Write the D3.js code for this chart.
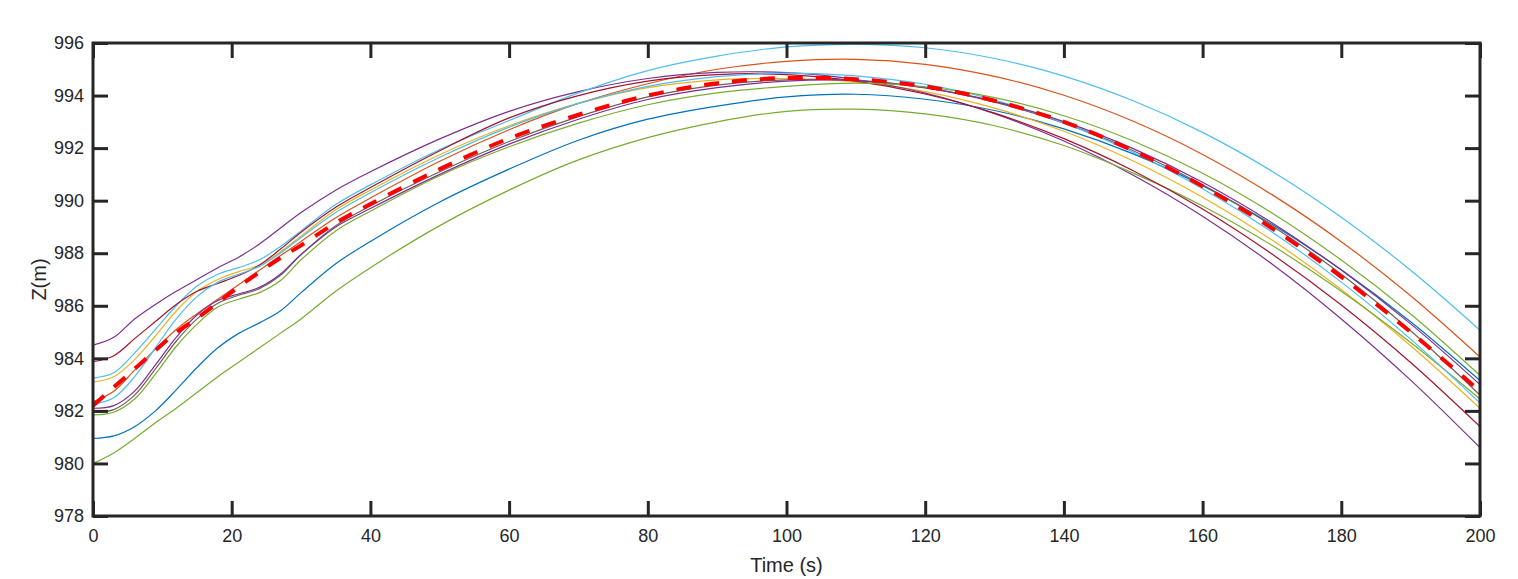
<!DOCTYPE html>
<html>
<head>
<meta charset="utf-8">
<script src="https://cdn.jsdelivr.net/npm/d3@7"></script>
<style>
  body { margin: 0; background: #fff; }
  text { font-family: "Liberation Sans", Arial, Helvetica, sans-serif; fill: #262626; }
</style>
</head>
<body>
<div id="chart"></div>
<script>
// sample times (s)
var times = [0,3,6,9,12,15,18,21,24,27,30,35,40,50,60,70,80,90,100,110,120,130,140,150,160,170,180,190,200];

// Z(m) of each run
var zBlue    = [980.95,981.05,981.4,982.0,982.8,983.65,984.4,984.95,985.35,985.8,986.5,987.6,988.45,989.95,991.2,992.3,993.1,993.6,993.95,994.05,993.86,993.43,992.73,991.78,990.57,989.1,987.37,985.39,983.15];
var zOrange  = [982.35,982.75,983.55,984.35,985.1,985.7,986.25,986.8,987.35,987.9,988.45,989.35,990.1,991.5,992.7,993.7,994.45,995.0,995.3,995.38,995.19,994.73,994.01,993.02,991.76,990.23,988.44,986.38,984.05];
var zYellow  = [983.1,983.3,983.95,984.85,985.8,986.55,987.0,987.3,987.55,988.05,988.65,989.65,990.4,991.75,992.85,993.7,994.3,994.6,994.65,994.52,994.15,993.52,992.64,991.51,990.13,988.5,986.62,984.48,982.1];
var zPurple  = [984.5,984.8,985.5,986.05,986.55,987.0,987.45,987.85,988.35,988.95,989.55,990.4,991.1,992.35,993.4,994.15,994.65,994.88,994.87,994.61,994.09,993.31,992.27,990.97,989.41,987.59,985.5,983.17,980.6];
var zGreen   = [980.0,980.4,980.95,981.55,982.1,982.7,983.3,983.85,984.4,984.95,985.5,986.55,987.45,989.05,990.4,991.55,992.4,993.0,993.4,993.48,993.3,992.85,992.1,991.05,989.8,988.3,986.55,984.6,982.45];
var zCyan    = [983.25,983.45,984.2,985.1,986.0,986.75,987.2,987.45,987.75,988.25,988.85,989.85,990.6,991.95,993.05,994.1,994.95,995.5,995.85,995.95,995.82,995.41,994.74,993.8,992.6,991.12,989.37,987.35,985.07];
var zDarkRed = [983.87,984.1,984.75,985.4,986.05,986.55,986.85,987.15,987.55,988.15,988.8,989.75,990.5,991.9,993.15,994.0,994.55,994.8,994.8,994.55,994.06,993.33,992.36,991.14,989.68,987.97,986.03,983.84,981.4];
var zGrey    = [981.95,982.05,982.6,983.6,984.65,985.5,986.1,986.4,986.65,987.15,987.95,989.05,989.8,991.1,992.25,993.2,993.95,994.4,994.6,994.58,994.3,993.75,992.95,991.9,990.6,989.05,987.2,985.05,982.6];
var zCyan2   = [982.25,982.5,983.3,984.4,985.5,986.35,986.9,987.2,987.5,988.0,988.6,989.55,990.3,991.65,992.8,993.7,994.35,994.72,994.85,994.75,994.43,993.83,992.96,991.84,990.45,988.81,986.9,984.73,982.3];
var zPurple2 = [982.1,982.2,982.75,983.75,984.8,985.65,986.2,986.45,986.7,987.2,987.95,989.0,989.7,991.0,992.15,993.1,993.85,994.3,994.55,994.57,994.29,993.78,993.01,991.98,990.7,989.16,987.36,985.31,983.0];
var zGreen2  = [981.85,981.95,982.45,983.4,984.45,985.3,985.95,986.25,986.5,986.95,987.75,988.85,989.6,990.95,992.05,992.95,993.65,994.1,994.35,994.47,994.33,993.92,993.23,992.27,991.04,989.53,987.74,985.69,983.35];
// red dashed reference
var zMean    = [982.2,982.9,983.6,984.3,984.98,985.52,986.12,986.72,987.28,987.82,988.3,989.15,989.87,991.2,992.37,993.27,994.0,994.47,994.67,994.62,994.35,993.8,993.0,991.9,990.55,988.95,987.1,985.0,982.75];

var runs = [zBlue, zOrange, zYellow, zPurple, zGreen, zCyan, zDarkRed, zGrey, zCyan2, zPurple2, zGreen2];
var runColors = ["#0072BD","#D95319","#EDB120","#7E2F8E","#77AC30","#4DBEEE","#A2142F","#6e6058","#4DBEEE","#7E2F8E","#77AC30"];

var xTicks = [0,20,40,60,80,100,120,140,160,180,200];
var yTicks = [978,980,982,984,986,988,990,992,994,996];

var margin = {top: 43, right: 38, bottom: 63, left: 93},
    width = 1518 - margin.left - margin.right,
    height = 579 - margin.top - margin.bottom;

var svg = d3.select("#chart")
  .append("svg")
    .attr("width", 1518)
    .attr("height", 579)
  .append("g")
    .attr("transform", "translate(" + margin.left + "," + margin.top + ")");

var x = d3.scaleLinear().domain([0, 200]).range([0, width]);
var y = d3.scaleLinear().domain([978, 996]).range([height, 0]);

svg.append("clipPath").attr("id", "clip")
  .append("rect").attr("width", width).attr("height", height);

var line = d3.line()
  .x(function(d, i) { return x(times[i]); })
  .y(function(d) { return y(d); })
  .curve(d3.curveCatmullRom.alpha(0.5));

var plot = svg.append("g").attr("clip-path", "url(#clip)");

plot.selectAll(".run")
  .data(runs)
  .enter()
  .append("path")
    .attr("class", "run")
    .attr("d", line)
    .style("fill", "none")
    .style("stroke", function(d, i) { return runColors[i]; })
    .style("stroke-width", 1.2);

plot.append("path")
  .attr("d", line(zMean))
  .style("fill", "none")
  .style("stroke", "#ff0000")
  .style("stroke-width", 4)
  .style("stroke-dasharray", "15,13");

// axes, ticks inside on all four sides
function styleAxis(g) {
  g.select(".domain").remove();
  g.selectAll(".tick line").style("stroke", "#262626").style("stroke-width", 3);
  g.selectAll(".tick text").style("font-size", "18px").style("fill", "#262626")
    .style("font-family", "'Liberation Sans', Arial, sans-serif");
}

svg.append("g")
  .attr("transform", "translate(0," + height + ")")
  .call(d3.axisBottom(x).tickValues(xTicks).tickSizeInner(-15).tickSizeOuter(0).tickPadding(13))
  .call(styleAxis);
svg.append("g")
  .call(d3.axisTop(x).tickValues(xTicks).tickSizeInner(-15).tickSizeOuter(0).tickFormat(""))
  .call(styleAxis);
svg.append("g")
  .call(d3.axisLeft(y).tickValues(yTicks).tickSizeInner(-15).tickSizeOuter(0).tickPadding(9).tickFormat(d3.format("d")))
  .call(styleAxis);
svg.append("g")
  .attr("transform", "translate(" + width + ",0)")
  .call(d3.axisRight(y).tickValues(yTicks).tickSizeInner(-15).tickSizeOuter(0).tickFormat(""))
  .call(styleAxis);

svg.append("rect")
  .attr("width", width)
  .attr("height", height)
  .style("fill", "none")
  .style("stroke", "#262626")
  .style("stroke-width", 3);

// axis labels
svg.append("text")
  .attr("text-anchor", "middle")
  .attr("x", width / 2)
  .attr("y", height + 56)
  .style("font-size", "20px")
  .text("Time (s)");

svg.append("text")
  .attr("text-anchor", "middle")
  .attr("transform", "translate(" + (-47) + "," + (height / 2) + ") rotate(-90)")
  .style("font-size", "20px")
  .text("Z(m)");
</script>
</body>
</html>
